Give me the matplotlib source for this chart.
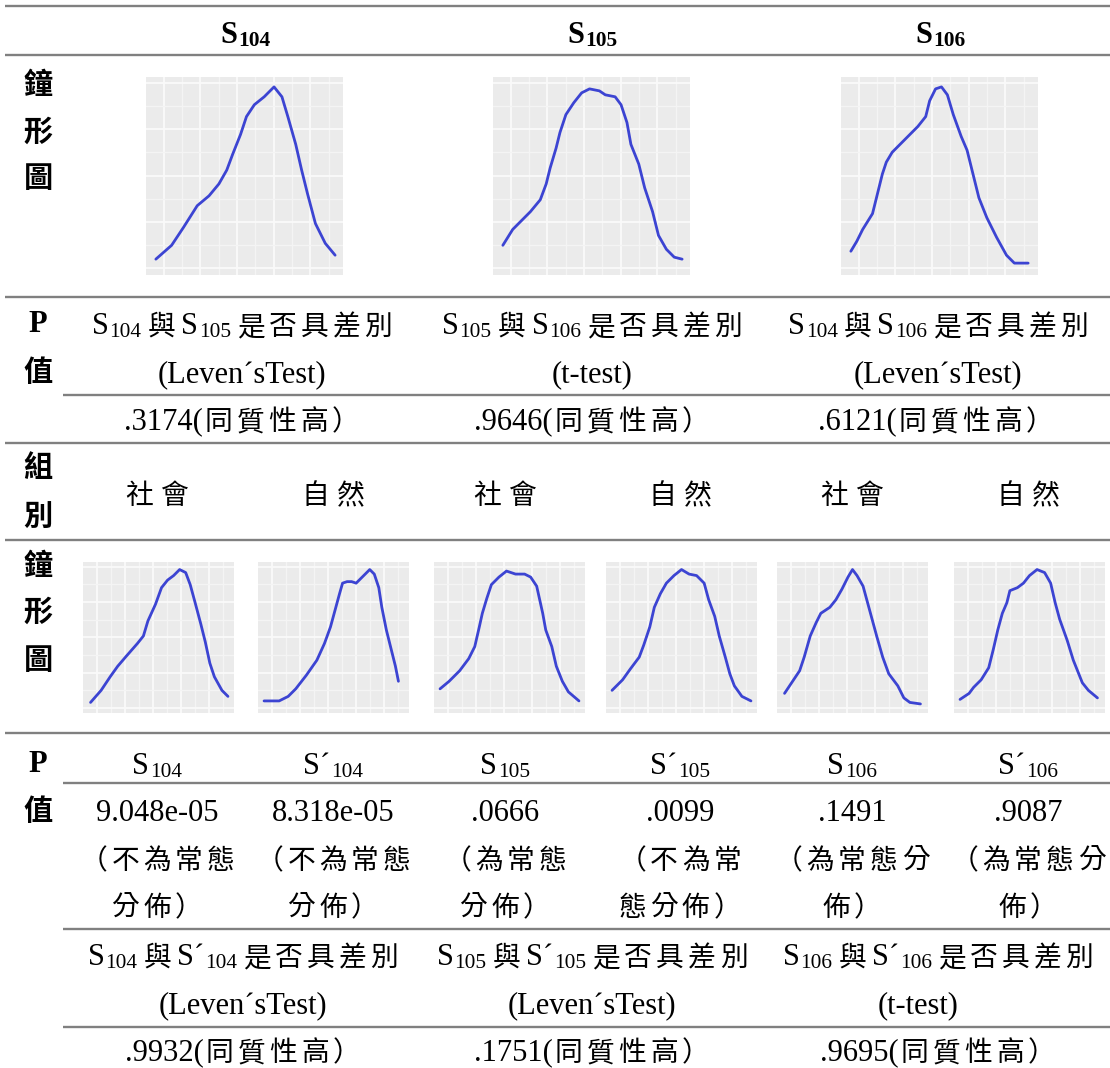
import re
import matplotlib
matplotlib.use('Agg')
import matplotlib.pyplot as plt
import numpy as np

# ---------------- data ----------------
headers = ['S_{104}', 'S_{105}', 'S_{106}']
compare_top = ['S_{104} 與 S_{105} 是否具差別', 'S_{105} 與 S_{106} 是否具差別', 'S_{104} 與 S_{106} 是否具差別']
test_top = ['(Leven´sTest)', '(t-test)', '(Leven´sTest)']
pval_top = ['.3174', '.9646', '.6121']

groups = ['社會', '自然', '社會', '自然', '社會', '自然']
samples = ['S_{104}', 'S´_{104}', 'S_{105}', 'S´_{105}', 'S_{106}', 'S´_{106}']
normal_p = ['9.048e-05', '8.318e-05', '.0666', '.0099', '.1491', '.9087']
normal_line1 = ['（不為常態', '（不為常態', '（為常態', '（不為常', '（為常態分', '（為常態分']
normal_line2 = ['分佈）', '分佈）', '分佈）', '態分佈）', '佈）', '佈）']

compare_bot = ['S_{104} 與 S´_{104} 是否具差別', 'S_{105} 與 S´_{105} 是否具差別', 'S_{106} 與 S´_{106} 是否具差別']
test_bot = ['(Leven´sTest)', '(Leven´sTest)', '(t-test)']
pval_bot = ['.9932', '.1751', '.9695']
homog_label = '(同質性高）'

# density curves (x position %, relative density %)
s104_x = [5, 13, 19, 26, 32, 37, 41, 44, 48, 51, 55, 60, 65, 69, 72, 76, 79, 82, 86, 91, 96]
s104_y = [8, 15, 24, 35, 40, 46, 53, 61, 71, 80, 86, 90, 95, 90, 80, 66, 53, 41, 26, 16, 10]
s105_x = [5, 10, 14, 19, 24, 27, 29, 32, 34, 37, 41, 45, 49, 54, 57, 62, 65, 68, 70, 74, 77, 81, 84, 88, 92, 96]
s105_y = [15, 23, 27, 32, 38, 46, 54, 64, 72, 81, 87, 92, 94, 93, 91, 90, 86, 77, 66, 56, 44, 32, 20, 13, 9, 8]
s106_x = [5, 8, 11, 16, 18, 21, 23, 26, 30, 35, 39, 43, 45, 48, 51, 54, 57, 61, 64, 67, 70, 74, 79, 84, 88, 95]
s106_y = [12, 17, 23, 31, 39, 51, 57, 62, 66, 71, 75, 80, 88, 94, 95, 91, 81, 70, 63, 51, 39, 29, 19, 10, 6, 6]

soc104_x = [5, 12, 18, 23, 29, 36, 40, 43, 48, 52, 56, 60, 64, 68, 71, 74, 78, 81, 84, 87, 92, 96]
soc104_y = [7, 15, 24, 31, 38, 46, 51, 61, 72, 83, 88, 91, 95, 93, 85, 74, 59, 47, 33, 24, 15, 11]
nat104_x = [4, 14, 20, 25, 32, 39, 44, 48, 51, 54, 56, 59, 62, 65, 70, 74, 77, 80, 82, 85, 89, 91, 93]
nat104_y = [8, 8, 11, 16, 25, 35, 46, 57, 68, 79, 86, 87, 87, 86, 91, 95, 92, 83, 70, 55, 39, 31, 21]
soc105_x = [4, 10, 17, 23, 27, 30, 32, 35, 38, 43, 48, 54, 60, 64, 68, 70, 72, 74, 78, 81, 85, 89, 96]
soc105_y = [16, 21, 28, 36, 44, 57, 66, 76, 85, 90, 94, 92, 92, 90, 84, 75, 66, 55, 44, 31, 21, 14, 8]
nat105_x = [4, 11, 16, 22, 25, 29, 32, 36, 40, 45, 50, 55, 60, 65, 68, 72, 75, 79, 82, 85, 90, 96]
nat105_y = [15, 22, 29, 37, 45, 57, 70, 79, 86, 91, 95, 92, 91, 86, 75, 64, 51, 37, 26, 18, 11, 8]
soc106_x = [5, 11, 15, 18, 22, 26, 29, 35, 39, 43, 47, 50, 53, 57, 60, 63, 66, 70, 74, 80, 84, 88, 95]
soc106_y = [13, 22, 28, 37, 51, 60, 66, 70, 75, 82, 90, 95, 91, 84, 73, 62, 51, 37, 26, 18, 10, 7, 6]
nat106_x = [4, 10, 13, 18, 23, 26, 29, 32, 35, 37, 42, 46, 50, 55, 60, 64, 67, 70, 75, 79, 85, 89, 95]
nat106_y = [9, 13, 17, 22, 30, 42, 55, 66, 73, 81, 83, 86, 91, 95, 93, 86, 73, 62, 48, 35, 20, 15, 10]

# ---------------- figure ----------------
W, H = 1110, 1068
fig = plt.figure(figsize=(W / 100, H / 100), dpi=100)
ax = fig.add_axes([0, 0, 1, 1])
ax.set_xlim(0, W)
ax.set_ylim(H, 0)
ax.axis('off')
renderer = fig.canvas.get_renderer()

LINE = '#808080'
for y in [6, 55, 297, 443, 540, 733]:
    ax.plot([5, W], [y, y], color=LINE, lw=1.7, solid_capstyle='butt')
for y in [395, 783, 929, 1027]:
    ax.plot([63, W], [y, y], color=LINE, lw=1.7, solid_capstyle='butt')

LATIN = 'Liberation Serif'
CJKF = 'Noto Sans CJK TC'
FS_LAT = 22
FS_CJK = 20
PX = 100 / 72.0

CJK_RANGE = '\u3000-\u303f\u3400-\u9fff\uff00-\uffef'
TOKEN = re.compile(r'_\{([^}]*)\}|([' + CJK_RANGE + r']+)|( +)|([^_ ' + CJK_RANGE + r']+)')


def lat_width(s, size, weight):
    tt = ax.text(0, 0, s, fontsize=size, family=LATIN, fontweight=weight)
    w = tt.get_window_extent(renderer).width
    tt.remove()
    return w


def rich(xc, yc, s, track=4, weight='normal', fs_lat=FS_LAT, fs_cjk=FS_CJK):
    items = []
    for m in TOKEN.finditer(s):
        if m.group(1) is not None:
            items.append(['sub', m.group(1)])
        elif m.group(2):
            items.append(['cjk', m.group(2)])
        elif m.group(3):
            items.append(['gap', m.group(3)])
        else:
            items.append(['lat', m.group(4)])
    em = fs_cjk * PX
    widths = []
    prev = None
    for kind, txt in items:
        extra = 0
        if prev in ('lat', 'sub') and kind == 'cjk':
            extra = 2
        if kind == 'lat':
            w = lat_width(txt, fs_lat, weight)
        elif kind == 'sub':
            w = lat_width(txt, fs_lat * 0.7, weight) + 1
        elif kind == 'cjk':
            w = len(txt) * em + (len(txt) - 1) * track
        else:
            w = 6 * len(txt)
        widths.append((extra, w))
        prev = kind
    total = sum(e + w for e, w in widths)
    x = xc - total / 2
    base = yc + 10
    for (kind, txt), (extra, w) in zip(items, widths):
        x += extra
        if kind == 'lat':
            ax.text(x, base, txt, fontsize=fs_lat, family=LATIN, fontweight=weight,
                    ha='left', va='baseline')
        elif kind == 'sub':
            ax.text(x + 1, base + 3, txt, fontsize=fs_lat * 0.7, family=LATIN,
                    fontweight=weight, ha='left', va='baseline')
        elif kind == 'cjk':
            for i, ch in enumerate(txt):
                ax.text(x + i * (em + track), base + 1, ch, fontsize=fs_cjk, family=CJKF,
                        fontweight=weight, ha='left', va='baseline')
        x += w


def label(x, y, s, weight='bold', family=CJKF, size=21):
    ax.text(x, y, s, fontsize=size, family=family, fontweight=weight,
            ha='center', va='center', color='black')


# left column labels
for y, s in zip([85, 132, 178], ['鐘', '形', '圖']):
    label(38, y, s)
label(38, 324, 'P', family=LATIN, size=22)
label(38, 372, '值')
for y, s in zip([467, 517], ['組', '別']):
    label(38, y, s)
for y, s in zip([566, 612, 660], ['鐘', '形', '圖']):
    label(38, y, s)
label(38, 764, 'P', family=LATIN, size=22)
label(38, 811, '值')

# header
for x, s in zip([245, 592, 940], headers):
    rich(x, 33, s, weight='bold')

# top P-value block
for x, s in zip([242, 592, 938], compare_top):
    rich(x, 324, s)
for x, s in zip([242, 592, 938], test_top):
    rich(x, 372, s)
for x, s in zip([242, 592, 936], pval_top):
    rich(x, 419, s + homog_label)

# groups
col6 = [157, 333, 505, 680, 852, 1028]
for x, s in zip(col6, groups):
    rich(x, 493, s, track=8)

# bottom P-value block
for x, s in zip(col6, samples):
    rich(x, 764, s)
for x, s in zip(col6, normal_p):
    rich(x, 811, s)
for x, s in zip(col6, normal_line1):
    rich(x, 858, s)
for x, s in zip(col6, normal_line2):
    rich(x, 905, s)
for x, s in zip([243, 592, 938], compare_bot):
    rich(x, 955, s)
for x, s in zip([243, 592, 918], test_bot):
    rich(x, 1003, s)
for x, s in zip([243, 592, 938], pval_bot):
    rich(x, 1050, s + homog_label)

# density panels
CURVE = '#3c44d2'


def panel(x0, y0, w, h, xs, ys):
    a = fig.add_axes([x0 / W, 1 - (y0 + h) / H, w / W, h / H])
    a.set_facecolor('#ebebeb')
    for sp in a.spines.values():
        sp.set_visible(False)
    a.set_xlim(0, 100)
    a.set_ylim(0, 100)
    a.set_xticks(np.arange(9, 100, 18.6))
    a.set_xticks(np.arange(18.3, 100, 18.6), minor=True)
    a.set_yticks(np.arange(3.4, 100, 23.4))
    a.set_yticks(np.arange(15.1, 100, 23.4), minor=True)
    a.tick_params(which='both', length=0, labelbottom=False, labelleft=False)
    a.grid(which='major', color='#fafafa', lw=1.3)
    a.grid(which='minor', color='#f4f4f4', lw=0.9)
    a.set_axisbelow(True)
    a.plot(xs, ys, color=CURVE, lw=2.0, solid_joinstyle='round', solid_capstyle='round')


for x0, xs, ys in zip([146, 493, 841], [s104_x, s105_x, s106_x], [s104_y, s105_y, s106_y]):
    panel(x0, 77, 197, 198, xs, ys)

bx = [83, 258, 434, 606, 777, 954]
bxs = [soc104_x, nat104_x, soc105_x, nat105_x, soc106_x, nat106_x]
bys = [soc104_y, nat104_y, soc105_y, nat105_y, soc106_y, nat106_y]
for x0, xs, ys in zip(bx, bxs, bys):
    panel(x0, 562, 151, 151, xs, ys)

fig.savefig('out.png', dpi=100)
